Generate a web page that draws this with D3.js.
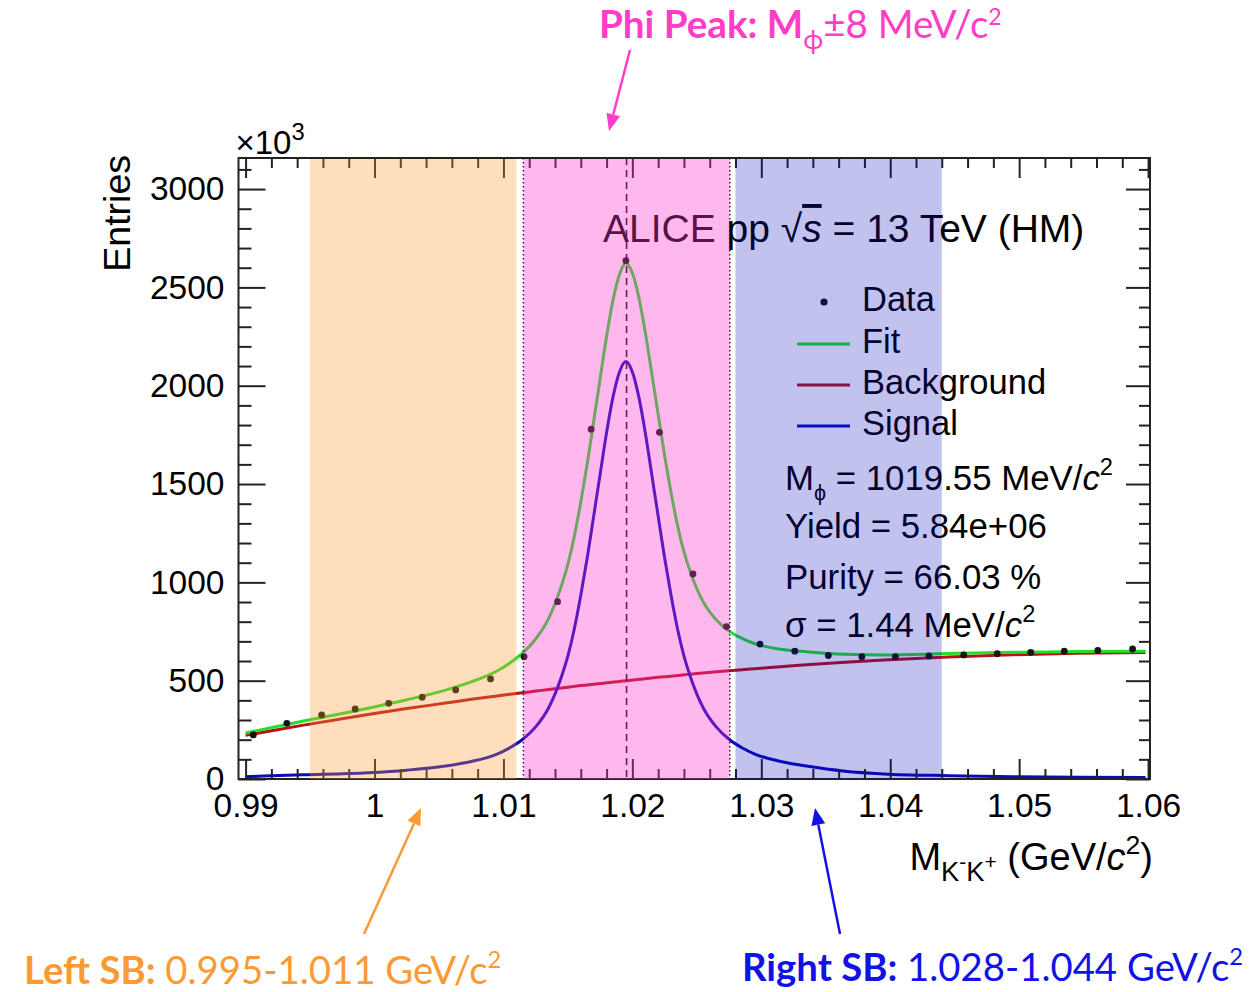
<!DOCTYPE html>
<html>
<head>
<meta charset="utf-8">
<script src="https://cdn.jsdelivr.net/npm/d3@7"></script>
<style>
  html, body { margin: 0; padding: 0; background: #fff; }
  svg { display: block; }
</style>
</head>
<body>
<svg id="chart" width="1252" height="992"></svg>
<script>
// ---- K-K+ invariant mass histogram (entries in units of 10^3) ----
const binMass = [0.9906, 0.9932, 0.9959, 0.9985, 1.0011, 1.0037, 1.0063, 1.0090, 1.0116,
  1.0142, 1.0168, 1.0195, 1.0221, 1.0247, 1.0273, 1.0299, 1.0326, 1.0352, 1.0378,
  1.0404, 1.0430, 1.0457, 1.0483, 1.0509, 1.0535, 1.0561, 1.0588];
const entries = [224, 283, 326, 356, 385, 416, 453, 509, 622, 902, 1779, 2636, 1763,
  1043, 775, 686, 650, 628, 622, 622, 626, 631, 637, 644, 650, 654, 661];

// ---- fit components sampled along the mass axis ----
const curveMass = [0.9900, 0.9945, 0.9995, 1.0025, 1.0055, 1.0075, 1.0095, 1.0105, 1.0115,
  1.0125, 1.0135, 1.0145, 1.0150, 1.0155, 1.0160, 1.0165, 1.0170, 1.0175, 1.0180, 1.0185,
  1.0190, 1.0195, 1.0200, 1.0205, 1.0210, 1.0215, 1.0220, 1.0225, 1.0230, 1.0235, 1.0240,
  1.0245, 1.0255, 1.0265, 1.0275, 1.0285, 1.0295, 1.0315, 1.0335, 1.0365, 1.0395, 1.0445,
  1.0495, 1.0545, 1.0598];
const signalCurve = [12, 21, 32, 45, 66, 89, 127, 159, 202, 265, 361, 520, 626, 764, 934,
  1125, 1337, 1550, 1762, 1943, 2070, 2123, 2070, 1943, 1762, 1550, 1337, 1125, 934, 764,
  626, 520, 361, 265, 202, 159, 127, 89, 66, 40, 26, 17, 12, 9, 7];
const backgroundCurve = [222, 274, 328, 358, 386, 405, 422, 431, 439, 447, 455, 463, 467,
  471, 475, 478, 482, 486, 489, 493, 496, 500, 503, 507, 510, 514, 517, 520, 523, 526, 530,
  533, 539, 545, 550, 556, 561, 571, 581, 594, 605, 621, 632, 640, 643];

// ---- axes ----
const xDomain = [0.98945, 1.06015];
const yDomain = [0, 3158];
const xTickValues = [0.99, 1.00, 1.01, 1.02, 1.03, 1.04, 1.05, 1.06];
const xTickLabels = ["0.99", "1", "1.01", "1.02", "1.03", "1.04", "1.05", "1.06"];
const yTickValues = [0, 500, 1000, 1500, 2000, 2500, 3000];
const yTickLabels = ["0", "500", "1000", "1500", "2000", "2500", "3000"];

// ---- mass windows ----
const phiMass = 1.01955;          // GeV/c^2
const peakHalfWidth = 0.008;      // +-8 MeV/c^2
const leftSideband = [0.995, 1.011];
const rightSideband = [1.028, 1.044];

const legendLabels = ["Data", "Fit", "Background", "Signal"];
const fitColor = "#22e028", bkgColor = "#b8121c", sigColor = "#0a0ab8";

// ---- layout ----
const svg = d3.select("#chart");
const frame = { left: 238.5, right: 1150, top: 158, bottom: 779 };
const x = d3.scaleLinear().domain(xDomain).range([frame.left, frame.right]);
const y = d3.scaleLinear().domain(yDomain).range([frame.bottom, frame.top]);
const rootFont = "'Liberation Sans', Arial, Helvetica, sans-serif";
const slideFont = "Lato, 'Open Sans', sans-serif";

svg.append("defs").append("clipPath").attr("id", "plot-clip")
  .append("rect").attr("x", frame.left).attr("y", frame.top)
  .attr("width", frame.right - frame.left).attr("height", frame.bottom - frame.top);

// text helper with sub/superscripts
function richText(sel, parts, size) {
  let shift = 0;
  parts.forEach(p => {
    const small = p.sub || p.sup || p.subsup;
    const fs = small ? size * (p.scale || 0.68) : size;
    const target = p.sub ? size * 0.28 : p.sup ? -size * (p.raise || 0.42) : p.subsup ? -size * 0.02 : 0;
    const ts = sel.append("tspan").attr("font-size", fs).attr("dy", target - shift).text(p.t);
    if (p.italic) ts.attr("font-style", "italic");
    if (p.bold) ts.attr("font-weight", "bold");
    if (p.fill) ts.attr("fill", p.fill);
    if (p.dx) ts.attr("dx", p.dx);
    shift = target;
  });
}

// ---- plot contents ----
const plot = svg.append("g").attr("clip-path", "url(#plot-clip)");

const lineOf = vals => d3.line()
  .x((d, i) => x(curveMass[i]))
  .y(d => y(d))
  .curve(d3.curveMonotoneX)(vals);

const fitCurve = signalCurve.map((s, i) => s + backgroundCurve[i]);

plot.append("path").attr("d", lineOf(backgroundCurve)).attr("fill", "none")
  .attr("stroke", bkgColor).attr("stroke-width", 3);
plot.append("path").attr("d", lineOf(signalCurve)).attr("fill", "none")
  .attr("stroke", sigColor).attr("stroke-width", 3);
plot.append("path").attr("d", lineOf(fitCurve)).attr("fill", "none")
  .attr("stroke", fitColor).attr("stroke-width", 3);

plot.selectAll("circle.pt").data(entries).join("circle").attr("class", "pt")
  .attr("cx", (d, i) => x(binMass[i])).attr("cy", d => y(d)).attr("r", 3.4)
  .attr("fill", "#151515");

// peak position and window edges
plot.append("line").attr("x1", x(phiMass)).attr("x2", x(phiMass))
  .attr("y1", frame.top).attr("y2", frame.bottom)
  .attr("stroke", "#111").attr("stroke-width", 1.6).attr("stroke-dasharray", "7,5");
[phiMass - peakHalfWidth, phiMass + peakHalfWidth].forEach(m => {
  plot.append("line").attr("x1", x(m)).attr("x2", x(m))
    .attr("y1", frame.top).attr("y2", frame.bottom)
    .attr("stroke", "#111").attr("stroke-width", 1.5).attr("stroke-dasharray", "1.5,2.5");
});

// ---- axes and frame ----
const tickStyle = g => {
  g.select(".domain").remove();
  g.selectAll(".tick line").attr("stroke", "#222").attr("stroke-width", 2);
  g.selectAll(".tick text").attr("fill", "#000").attr("font-family", rootFont);
};
const xMinor = d3.range(0, 36).map(i => 0.99 + i * 0.002).filter(v => !xTickValues.some(t => Math.abs(t - v) < 1e-6));
const yMinor = d3.range(0, 32).map(i => i * 100).filter(v => v % 500 !== 0);

svg.append("g").attr("transform", `translate(0,${frame.bottom})`)
  .call(d3.axisBottom(x).tickValues(xTickValues).tickFormat((d, i) => xTickLabels[i])
    .tickSizeInner(-20).tickSizeOuter(0).tickPadding(14))
  .call(tickStyle).selectAll(".tick text").attr("font-size", 33.5);
svg.append("g").attr("transform", `translate(0,${frame.bottom})`)
  .call(d3.axisBottom(x).tickValues(xMinor).tickFormat("").tickSizeInner(-10).tickSizeOuter(0))
  .call(tickStyle);
svg.append("g").attr("transform", `translate(0,${frame.top})`)
  .call(d3.axisTop(x).tickValues(xTickValues).tickFormat("").tickSizeInner(-20).tickSizeOuter(0))
  .call(tickStyle);
svg.append("g").attr("transform", `translate(0,${frame.top})`)
  .call(d3.axisTop(x).tickValues(xMinor).tickFormat("").tickSizeInner(-10).tickSizeOuter(0))
  .call(tickStyle);

svg.append("g").attr("transform", `translate(${frame.left},0)`)
  .call(d3.axisLeft(y).tickValues(yTickValues).tickFormat((d, i) => yTickLabels[i])
    .tickSizeInner(-27).tickSizeOuter(0).tickPadding(14))
  .call(tickStyle).selectAll(".tick text").attr("font-size", 33.5);
svg.append("g").attr("transform", `translate(${frame.left},0)`)
  .call(d3.axisLeft(y).tickValues(yMinor).tickFormat("").tickSizeInner(-13).tickSizeOuter(0))
  .call(tickStyle);
svg.append("g").attr("transform", `translate(${frame.right},0)`)
  .call(d3.axisRight(y).tickValues(yTickValues).tickFormat("").tickSizeInner(-24).tickSizeOuter(0))
  .call(tickStyle);
svg.append("g").attr("transform", `translate(${frame.right},0)`)
  .call(d3.axisRight(y).tickValues(yMinor).tickFormat("").tickSizeInner(-11).tickSizeOuter(0))
  .call(tickStyle);

svg.append("rect").attr("x", frame.left).attr("y", frame.top)
  .attr("width", frame.right - frame.left).attr("height", frame.bottom - frame.top)
  .attr("fill", "none").attr("stroke", "#222").attr("stroke-width", 2);

// multiplier and axis titles
richText(svg.append("text").attr("x", frame.left - 3).attr("y", 154)
  .attr("font-family", rootFont).attr("fill", "#000"),
  [{ t: "×10" }, { t: "3", sup: true, scale: 0.72 }], 33);

svg.append("text").attr("transform", `translate(130,155) rotate(-90)`)
  .attr("text-anchor", "end").attr("font-family", rootFont).attr("font-size", 37.5)
  .attr("fill", "#000").text("Entries");

richText(svg.append("text").attr("x", frame.right + 3).attr("y", 870)
  .attr("text-anchor", "end").attr("font-family", rootFont).attr("fill", "#000"),
  [{ t: "M" }, { t: "K", sub: true, scale: 0.72 }, { t: "-", subsup: true, scale: 0.55 }, { t: "K", sub: true, scale: 0.72 },
   { t: "+", subsup: true, scale: 0.55 }, { t: " (GeV/" }, { t: "c", italic: true },
   { t: "2", sup: true, scale: 0.7 }, { t: ")" }], 38);

// ---- plot captions ----
const alice = svg.append("text").attr("x", 603).attr("y", 242)
  .attr("font-family", rootFont).attr("font-size", 39).attr("fill", "#000");
alice.append("tspan").text("ALICE pp ");
alice.append("tspan").text("√");
alice.append("tspan").attr("font-style", "italic").attr("text-decoration", "overline").text("s");
alice.append("tspan").text(" = 13 TeV (HM)");

const legendY = [311, 353, 394, 435];
const legendG = svg.append("g");
legendG.append("circle").attr("cx", 824).attr("cy", legendY[0] - 9).attr("r", 3.6).attr("fill", "#151515");
[fitColor, bkgColor, sigColor].forEach((c, i) => {
  legendG.append("line").attr("x1", 797).attr("x2", 850)
    .attr("y1", legendY[i + 1] - 9).attr("y2", legendY[i + 1] - 9)
    .attr("stroke", c).attr("stroke-width", 3);
});
legendLabels.forEach((t, i) => {
  legendG.append("text").attr("x", 862).attr("y", legendY[i])
    .attr("font-family", rootFont).attr("font-size", 34.5).attr("fill", "#000").text(t);
});

const statsY = [490, 538, 589, 637];
const stats = [
  [{ t: "M" }, { t: "ϕ", sub: true, scale: 0.62 }, { t: " = 1019.55 MeV/" }, { t: "c", italic: true }, { t: "2", sup: true }],
  [{ t: "Yield = 5.84e+06" }],
  [{ t: "Purity = 66.03 %" }],
  [{ t: "σ = 1.44 MeV/" }, { t: "c", italic: true }, { t: "2", sup: true }]
];
stats.forEach((parts, i) => {
  richText(svg.append("text").attr("x", 785).attr("y", statsY[i])
    .attr("font-family", rootFont).attr("fill", "#000"), parts, 34.8);
});

// ---- mass-window highlights (translucent, drawn over the plot) ----
const bands = [
  { range: leftSideband, fill: "rgb(255,153,51)", opacity: 0.32 },
  { range: [phiMass - peakHalfWidth, phiMass + peakHalfWidth], fill: "rgb(255,51,204)", opacity: 0.35 },
  { range: rightSideband, fill: "rgb(10,12,190)", opacity: 0.25 }
];
svg.append("g").selectAll("rect").data(bands).join("rect")
  .attr("x", d => x(d.range[0])).attr("width", d => x(d.range[1]) - x(d.range[0]))
  .attr("y", frame.top + 1).attr("height", frame.bottom - frame.top - 1)
  .attr("fill", d => d.fill).attr("fill-opacity", d => d.opacity);

// ---- slide annotations ----
const magenta = "#ff3dc8", orange = "#fa9a35", blue = "#1212e6";

function arrow(x1, y1, x2, y2, color) {
  const a = Math.atan2(y2 - y1, x2 - x1), len = 17, half = 7;
  const bx = x2 - len * Math.cos(a), by = y2 - len * Math.sin(a);
  svg.append("line").attr("x1", x1).attr("y1", y1).attr("x2", bx).attr("y2", by)
    .attr("stroke", color).attr("stroke-width", 2.5);
  const px = -Math.sin(a) * half, py = Math.cos(a) * half;
  svg.append("path").attr("d", `M${x2},${y2}L${bx + px},${by + py}L${bx - px},${by - py}Z`)
    .attr("fill", color);
}

richText(svg.append("text").attr("x", 599).attr("y", 38).attr("font-family", slideFont).attr("fill", magenta),
  [{ t: "Phi Peak: M", bold: true }, { t: "ϕ", sub: true, scale: 0.7 }, { t: "±8 MeV/c" },
   { t: "2", sup: true, scale: 0.6, raise: 0.34 }], 38.6);
arrow(630, 50, 609, 131, magenta);

richText(svg.append("text").attr("x", 24).attr("y", 984).attr("font-family", slideFont).attr("fill", orange),
  [{ t: "Left SB:", bold: true }, { t: " 0.995-1.011 GeV/c" }, { t: "2", sup: true, scale: 0.62 }], 38.3);
arrow(364, 934, 421, 808, orange);

richText(svg.append("text").attr("x", 742).attr("y", 981).attr("font-family", slideFont).attr("fill", blue),
  [{ t: "Right SB:", bold: true }, { t: " 1.028-1.044 GeV/c" }, { t: "2", sup: true, scale: 0.62 }], 38.3);
arrow(840, 934, 815, 808, blue);
</script>
</body>
</html>
